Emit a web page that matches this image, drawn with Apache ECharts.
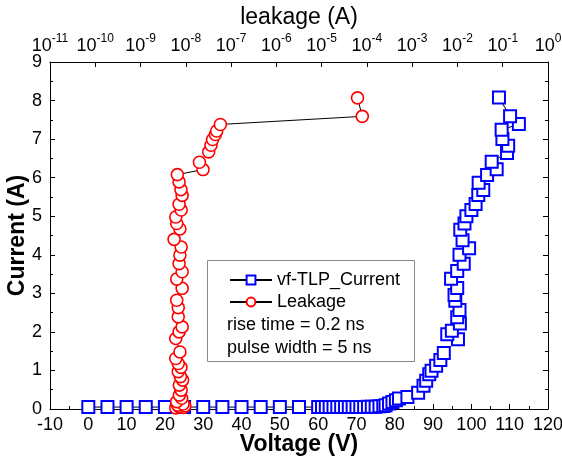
<!DOCTYPE html>
<html><head><meta charset="utf-8">
<script src="https://cdn.jsdelivr.net/npm/echarts@6/dist/echarts.min.js"></script>
<style>html,body{margin:0;padding:0;background:#fff}#c{width:562px;height:460px}</style>
</head><body><div id="c"></div>
<script>
// vf-TLP current: voltage (V) and current (A)
var tlpVoltage = [0,5,10,15,20,25,30,35,40,45,50,55,60,61,62,63,64,65,66,67,68,69,70,71,72,73,74,75,76,77,77.6,78.5,79.4,80.3,81.1,83.3,86.1,87.5,88.2,89.0,89.6,90.8,91.9,92.8,96.5,93.7,94.9,97.0,96.3,96.9,95.8,95.6,96.3,94.7,96.3,98.0,96.9,99.4,97.7,97.1,98.2,98.7,100.0,101.1,101.8,103.1,101.9,104.1,106.6,105.3,109.3,109.6,108.1,107.9,112.4,110.1,107.2];
var tlpCurrent = [0.05,0.05,0.05,0.05,0.05,0.05,0.05,0.05,0.05,0.05,0.05,0.05,0.05,0.05,0.05,0.05,0.05,0.05,0.05,0.05,0.05,0.05,0.05,0.05,0.05,0.06,0.06,0.06,0.07,0.08,0.10,0.14,0.18,0.23,0.27,0.31,0.42,0.60,0.73,0.90,0.99,1.12,1.27,1.45,1.81,1.94,2.03,2.22,2.38,2.57,2.81,2.96,3.14,3.38,3.58,3.77,4.00,4.17,4.38,4.65,4.81,5.00,5.16,5.32,5.55,5.68,5.87,6.07,6.22,6.41,6.64,6.83,7.00,7.24,7.39,7.59,8.08];
// Leakage: leakage current (A) and current (A)
var leakAmps = [6.0e-9,8.9e-9,7.1e-9,9.5e-9,6.6e-9,8.7e-9,6.3e-9,8.1e-9,7.2e-9,7.9e-9,7.2e-9,8.5e-9,7.6e-9,6.8e-9,7.8e-9,6.8e-9,6.0e-9,7.4e-9,6.0e-9,7.1e-9,8.3e-9,6.8e-9,6.8e-9,6.3e-9,8.3e-9,6.3e-9,8.3e-9,7.1e-9,7.4e-9,7.9e-9,5.5e-9,7.4e-9,6.3e-9,6.0e-9,7.9e-9,7.1e-9,8.3e-9,7.8e-9,7.1e-9,6.5e-9,2.4e-8,2.0e-8,3.2e-8,3.6e-8,3.9e-8,4.5e-8,4.8e-8,5.8e-8,7.9e-5,6.2e-5];
var leakCurrent = [0.03,0.04,0.06,0.08,0.10,0.13,0.19,0.28,0.36,0.49,0.62,0.75,0.84,0.97,1.08,1.18,1.31,1.48,1.83,2.00,2.13,2.39,2.63,2.82,3.13,3.37,3.56,3.77,3.99,4.20,4.40,4.67,4.81,4.98,5.16,5.31,5.54,5.69,5.89,6.08,6.21,6.40,6.67,6.84,6.99,7.12,7.21,7.38,7.59,8.07];
var voltTicks = {min:-10, max:120, step:10};
var currTicks = {min:0, max:9, step:1};
var leakTicks = {min:1e-11, max:1};

var tlpData = tlpVoltage.map(function(v,i){return [v, tlpCurrent[i]];});
var leakData = leakAmps.map(function(v,i){return [v, leakCurrent[i]];});

var FONT = 'Liberation Sans, Arial, sans-serif';
function tick(){return {show:true,inside:true,length:5,lineStyle:{color:'#000'}};}
function minor(){return {show:true,splitNumber:2,length:3,lineStyle:{color:'#000'}};}
function line(){return {show:true,onZero:false,lineStyle:{color:'#000',width:1}};}
var chart = echarts.init(document.getElementById('c'));
chart.setOption({
  animation:false,
  textStyle:{fontFamily:FONT},
  grid:{left:50,right:14,top:62,bottom:51,containLabel:false,outerBoundsMode:'none'},
  xAxis:[{
    type:'value', position:'bottom', min:voltTicks.min, max:voltTicks.max, interval:voltTicks.step,
    axisLine:line(), axisTick:tick(), minorTick:minor(), splitLine:{show:false},
    axisLabel:{color:'#000',fontSize:18,fontFamily:FONT,margin:7,interval:0},
    name:'Voltage (V)', nameLocation:'middle', nameGap:24, nameMoveOverlap:false,
    nameTextStyle:{color:'#000',fontSize:23,fontWeight:'bold',fontFamily:FONT,verticalAlign:'top'}
  },{
    type:'log', position:'top', min:leakTicks.min, max:leakTicks.max, logBase:10, interval:1, splitNumber:11,
    axisLine:line(), axisTick:tick(), splitLine:{show:false},
    axisLabel:{color:'#000',fontSize:18,fontFamily:FONT,margin:7,interval:0,
      formatter:function(v){var e=Math.round(Math.log10(v));return '{b|10}{s|'+e+'}';},
      rich:{b:{fontSize:18,color:'#000',fontFamily:FONT,verticalAlign:'bottom',lineHeight:22},
            s:{fontSize:12,color:'#000',fontFamily:FONT,verticalAlign:'top',lineHeight:22}}},
    name:'leakage (A)', nameLocation:'middle', nameGap:33, nameMoveOverlap:false,
    nameTextStyle:{color:'#000',fontSize:23,fontFamily:FONT,verticalAlign:'bottom'}
  }],
  yAxis:[{
    type:'value', position:'left', min:currTicks.min, max:currTicks.max, interval:currTicks.step,
    axisLine:line(), axisTick:tick(), minorTick:minor(), splitLine:{show:false},
    axisLabel:{color:'#000',fontSize:18,fontFamily:FONT,margin:8},
    name:'Current (A)', nameLocation:'middle', nameGap:21, nameMoveOverlap:false,
    nameTextStyle:{color:'#000',fontSize:23,fontWeight:'bold',fontFamily:FONT,verticalAlign:'bottom'}
  },{
    type:'value', position:'right', min:currTicks.min, max:currTicks.max, interval:currTicks.step,
    axisLine:line(), axisTick:tick(), minorTick:minor(), splitLine:{show:false},
    axisLabel:{show:false}
  }],
  legend:{
    left:224, top:266, orient:'vertical', itemGap:4, itemWidth:42, itemHeight:11,
    textStyle:{color:'#000',fontSize:18,fontFamily:FONT},
    data:['vf-TLP_Current','Leakage']
  },
  graphic:[
    {type:'rect',left:205,top:258,shape:{width:207,height:101},style:{fill:'none',stroke:'#888',lineWidth:1},z:100},
    {type:'text',left:227,top:316,style:{text:'rise time = 0.2 ns',font:'18px '+FONT,fill:'#000'},z:100},
    {type:'text',left:227,top:339,style:{text:'pulse width = 5 ns',font:'18px '+FONT,fill:'#000'},z:100}
  ],
  series:[{
    name:'vf-TLP_Current', type:'line', xAxisIndex:0, yAxisIndex:0, data:tlpData,
    symbol:'rect', symbolSize:12, showSymbol:true,
    lineStyle:{color:'#000',width:1},
    itemStyle:{color:'#fff',borderColor:'#0000ff',borderWidth:2}
  },{
    name:'Leakage', type:'line', xAxisIndex:1, yAxisIndex:0, data:leakData,
    symbol:'circle', symbolSize:12, showSymbol:true,
    lineStyle:{color:'#000',width:1},
    itemStyle:{color:'#fff',borderColor:'#ff0000',borderWidth:1.6}
  }]
});
</script></body></html>
